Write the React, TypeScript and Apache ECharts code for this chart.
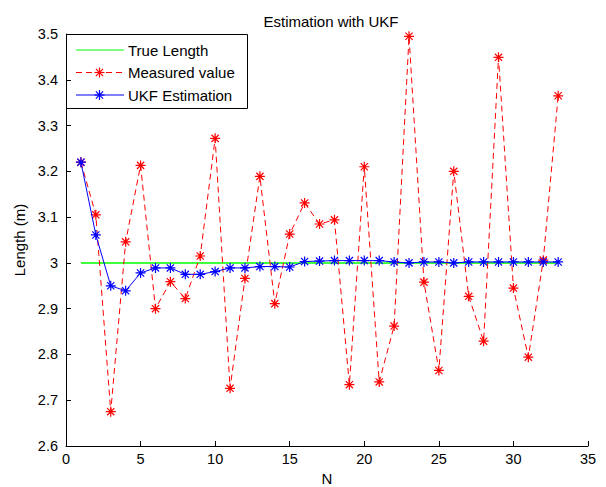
import React, { useEffect, useRef } from "react";
import * as echarts from "echarts";

const nValues = [1, 2, 3, 4, 5, 6, 7, 8, 9, 10, 11, 12, 13, 14, 15, 16, 17, 18, 19, 20, 21, 22, 23, 24, 25, 26, 27, 28, 29, 30, 31, 32, 33];
const trueLength = [3, 3, 3, 3, 3, 3, 3, 3, 3, 3, 3, 3, 3, 3, 3, 3, 3, 3, 3, 3, 3, 3, 3, 3, 3, 3, 3, 3, 3, 3, 3, 3, 3];
const measured = [3.22, 3.105, 2.675, 3.046, 3.213, 2.9, 2.959, 2.922, 3.015, 3.272, 2.726, 2.966, 3.189, 2.911, 3.063, 3.131, 3.085, 3.094, 2.734, 3.21, 2.74, 2.862, 3.495, 2.958, 2.765, 3.2, 2.927, 2.829, 3.449, 2.945, 2.794, 3.006, 3.365];
const ukf = [3.22, 3.061, 2.95, 2.939, 2.978, 2.989, 2.989, 2.975, 2.975, 2.981, 2.989, 2.989, 2.992, 2.992, 2.991, 3.003, 3.004, 3.005, 3.005, 3.005, 3.005, 3.002, 3.0, 3.002, 3.002, 3.0, 3.002, 3.002, 3.002, 3.002, 3.002, 3.002, 3.002];
const xTicks = { min: 0, max: 35, interval: 5 };
const yTicks = { min: 2.6, max: 3.5, interval: 0.1 };

const FONT = "'Liberation Sans', Arial, sans-serif";
const STAR = "path://M0 -5 L0 5 M-5 0 L5 0 M-3.6 -3.6 L3.6 3.6 M-3.6 3.6 L3.6 -3.6";

function starMarker(cx: number, cy: number, color: string) {
  const r = 5;
  const d = 3.6;
  const seg = (x1: number, y1: number, x2: number, y2: number) => ({
    type: "line",
    shape: { x1: cx + x1, y1: cy + y1, x2: cx + x2, y2: cy + y2 },
    style: { stroke: color, lineWidth: 1.2 },
  });
  return [seg(0, -r, 0, r), seg(-r, 0, r, 0), seg(-d, -d, d, d), seg(-d, d, d, -d)];
}

export default function App() {
  const ref = useRef<HTMLDivElement>(null);
  useEffect(() => {
    if (!ref.current) return;
    const chart = echarts.init(ref.current, null, { renderer: "svg" });
    const pair = (ys: number[]) => nValues.map((n, i) => [n, ys[i]]);
    const rows = [
      { y: 50, label: "True Length", color: "#00ff00", dash: null as any, marker: false },
      { y: 72.5, label: "Measured value", color: "#ff0000", dash: [6, 4], marker: true },
      { y: 95, label: "UKF Estimation", color: "#0000ff", dash: null as any, marker: true },
    ];
    const legendChildren: any[] = [
      {
        type: "rect",
        shape: { x: 66.5, y: 34.5, width: 181, height: 74 },
        style: { fill: "#ffffff", stroke: "#000000", lineWidth: 1 },
      },
    ];
    rows.forEach((r) => {
      legendChildren.push({
        type: "line",
        shape: { x1: 76, y1: r.y, x2: 124, y2: r.y },
        style: { stroke: r.color, lineWidth: 1, lineDash: r.dash || undefined },
      });
      if (r.marker) legendChildren.push(...starMarker(99.5, r.y, r.color));
      legendChildren.push({
        type: "text",
        x: 128,
        y: r.y,
        style: { text: r.label, fill: "#000", font: `15px ${FONT}`, textVerticalAlign: "middle", verticalAlign: "middle" },
      });
    });
    chart.setOption({
      animation: false,
      backgroundColor: "#ffffff",
      title: {
        text: "Estimation with UKF",
        left: 326,
        top: 9,
        textAlign: "center",
        textStyle: { fontFamily: FONT, fontSize: 15, fontWeight: "normal", color: "#000" },
      },
      grid: { left: 66, top: 34, right: 18, bottom: 41, containLabel: false, outerBoundsMode: "none" },
      xAxis: {
        type: "value",
        min: xTicks.min,
        max: xTicks.max,
        interval: xTicks.interval,
        name: "N",
        nameLocation: "middle",
        nameGap: 24,
        nameTextStyle: { fontFamily: FONT, fontSize: 15, color: "#000" },
        axisLine: { lineStyle: { color: "#000", width: 1 } },
        axisTick: { inside: true, length: 5, lineStyle: { color: "#000" } },
        axisLabel: { fontFamily: FONT, fontSize: 14.5, color: "#000", margin: 5 },
        splitLine: { show: false },
      },
      yAxis: {
        type: "value",
        min: yTicks.min,
        max: yTicks.max,
        interval: yTicks.interval,
        name: "Length (m)",
        nameLocation: "middle",
        nameGap: 36,
        nameTextStyle: { fontFamily: FONT, fontSize: 15, color: "#000" },
        axisLine: { show: true, lineStyle: { color: "#000", width: 1 } },
        axisTick: { show: true, inside: true, length: 5, lineStyle: { color: "#000" } },
        axisLabel: { fontFamily: FONT, fontSize: 14.5, color: "#000", margin: 8 },
        splitLine: { show: false },
      },
      series: [
        {
          name: "True Length",
          type: "line",
          data: pair(trueLength),
          showSymbol: false,
          symbol: "none",
          lineStyle: { color: "#00ff00", width: 1.5 },
          z: 1,
        },
        {
          name: "Measured value",
          type: "line",
          data: pair(measured),
          symbol: STAR,
          symbolSize: 10,
          itemStyle: { color: "#ff0000", borderColor: "#ff0000", borderWidth: 1.2 },
          lineStyle: { color: "#ff0000", width: 1, type: [6, 4] },
          z: 2,
        },
        {
          name: "UKF Estimation",
          type: "line",
          data: pair(ukf),
          symbol: STAR,
          symbolSize: 10,
          itemStyle: { color: "#0000ff", borderColor: "#0000ff", borderWidth: 1.2 },
          lineStyle: { color: "#0000ff", width: 1 },
          z: 3,
        },
      ],
      graphic: [{ type: "group", z: 100, children: legendChildren }],
    });
    return () => chart.dispose();
  }, []);
  return <div ref={ref} style={{ width: 606, height: 487, position: "absolute", left: 0, top: 0 }} />;
}
